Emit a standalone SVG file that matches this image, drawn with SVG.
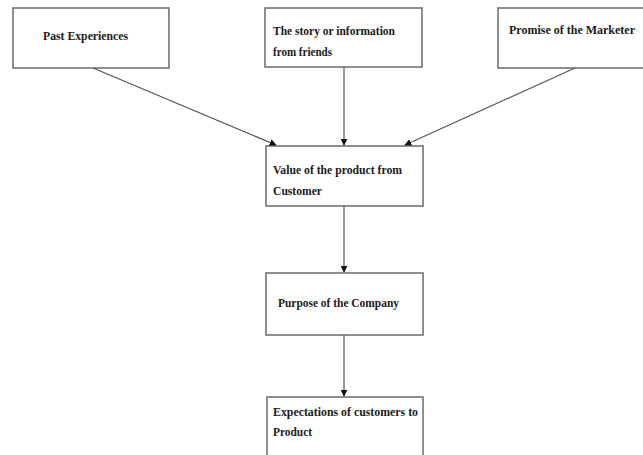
<svg xmlns="http://www.w3.org/2000/svg" width="643" height="455" viewBox="0 0 643 455">
<style>
rect.box{fill:#fff;stroke:#6a6a6a;stroke-width:1.5}
text{font-family:"Liberation Serif","Times New Roman",serif;font-size:12px;font-weight:bold;fill:#1a1a1a}
.conn line{stroke:#555;stroke-width:1.2;marker-end:url(#ah)}
</style>
<defs>
<marker id="ah" viewBox="0 0 10 10" refX="9" refY="5" markerWidth="7" markerHeight="7" markerUnits="userSpaceOnUse" orient="auto">
<path d="M0,0L10,5L0,10z" fill="#111"/>
</marker>
</defs>
<rect width="643" height="455" fill="#fff"/>
<g id="n1"><rect class="box" x="13" y="8" width="156" height="60"/><text x="43" y="40" textLength="85" lengthAdjust="spacingAndGlyphs">Past Experiences</text></g>
<g id="n2"><rect class="box" x="265" y="8" width="157" height="59"/><text x="273" y="35" textLength="122" lengthAdjust="spacingAndGlyphs">The story or information</text><text x="273" y="56" textLength="59" lengthAdjust="spacingAndGlyphs">from friends</text></g>
<g id="n3"><rect class="box" x="498" y="8" width="160" height="60"/><text x="509" y="34" textLength="126" lengthAdjust="spacingAndGlyphs">Promise of the Marketer</text></g>
<g id="n4"><rect class="box" x="266" y="146" width="157" height="60"/><text x="273" y="174" textLength="129" lengthAdjust="spacingAndGlyphs">Value of the product from</text><text x="273" y="195" textLength="49" lengthAdjust="spacingAndGlyphs">Customer</text></g>
<g id="n5"><rect class="box" x="266" y="273" width="157" height="62"/><text x="278" y="307" textLength="121" lengthAdjust="spacingAndGlyphs">Purpose of the Company</text></g>
<g id="n6"><rect class="box" x="267" y="397" width="156" height="70"/><text x="273" y="416" textLength="145" lengthAdjust="spacingAndGlyphs">Expectations of customers to</text><text x="273" y="436" textLength="39" lengthAdjust="spacingAndGlyphs">Product</text></g>
<g class="conn" id="connectors">
<line x1="93" y1="68" x2="276" y2="145"/>
<line x1="344" y1="67" x2="344" y2="145"/>
<line x1="575" y1="68" x2="405" y2="145"/>
<line x1="344" y1="206" x2="344" y2="272"/>
<line x1="344" y1="335" x2="344" y2="396"/>
</g>
</svg>
